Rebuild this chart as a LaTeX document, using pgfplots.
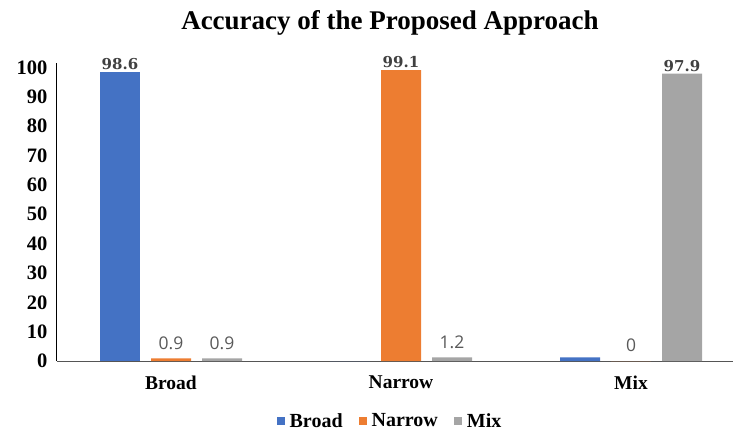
\documentclass[border=0pt]{standalone}
\usepackage{fontspec}
\setmainfont{Liberation Serif}
\newfontfamily\labelfont{Open Sans}
\newfontfamily\biglabelfont{DejaVu Serif}
\usepackage{pgfplots}
\pgfplotsset{compat=1.18}

\definecolor{cBroad}{HTML}{4472C4}
\definecolor{cNarrow}{HTML}{ED7D31}
\definecolor{cMix}{HTML}{A5A5A5}
\definecolor{lblbig}{HTML}{404040}
\definecolor{lblsmall}{HTML}{595959}
\definecolor{xaxisline}{HTML}{555555}

% value labels: large values bold and dark, small values regular and lifted
\newcommand\barlabel{%
  \pgfmathfloattofixed{\pgfplotspointmeta}%
  \ifdim\pgfmathresult pt>50pt
    \textcolor{lblbig}{\biglabelfont\bfseries\fontsize{15}{15}\selectfont\pgfmathprintnumber{\pgfplotspointmeta}}%
  \else
    \raisebox{7pt}{\textcolor{lblsmall}{\labelfont\fontsize{17.5}{17.5}\selectfont\pgfmathprintnumber{\pgfplotspointmeta}}}%
  \fi}

\begin{document}
\begin{tikzpicture}
\begin{axis}[
  scale only axis,
  width=676pt, height=298pt,
  xmin=-0.4957, xmax=2.4435,
  ymin=0, ymax=101.5,
  ybar, bar width=40pt,
  axis x line*=bottom, axis y line*=left,
  x axis line style={xaxisline, line width=1pt, -},
  y axis line style={black, line width=1pt, -},
  xtick={0,1,2}, xticklabels={Broad,Narrow,Mix},
  ytick={0,10,...,100},
  major tick length=0pt,
  /pgf/number format/assume math mode=true,
  xticklabel style={font=\bfseries\fontsize{19.5}{19.5}\selectfont, anchor=north, yshift=-11pt},
  yticklabel style={font=\bfseries\fontsize{20.5}{20.5}\selectfont, anchor=east, xshift=-6pt},
  nodes near coords={\barlabel},
  nodes near coords style={anchor=south, inner sep=2pt,
    /pgf/number format/.cd, fixed, precision=1},
  legend style={at={(333pt,-60pt)}, anchor=center, draw=none,
    legend columns=-1, font=\bfseries\fontsize{20}{20}\selectfont,
    /tikz/every odd column/.append style={column sep=3pt},
    /tikz/every even column/.append style={column sep=14pt}},
  legend image code/.code={\fill[#1] (0pt,-4pt) rectangle (8pt,4pt);},
  clip=false,
]
\addplot[fill=cBroad, draw=none, bar shift=-51pt] coordinates {(0,98.6)};
\addlegendentry{Broad}
\addplot[fill=cBroad, draw=none, bar shift=-51pt, nodes near coords={}, forget plot] coordinates {(1,0) (2,1.2)};
\addplot[fill=cNarrow, draw=none, bar shift=0pt] coordinates {(0,0.9) (1,99.1) (2,0)};
\addlegendentry{Narrow}
\addplot[fill=cMix, draw=none, bar shift=51pt] coordinates {(0,0.9) (1,1.2) (2,97.9)};
\addlegendentry{Mix}
\end{axis}
\node[font=\bfseries\fontsize{27}{27}\selectfont] at (333pt,338pt) {Accuracy of the Proposed Approach};
\pgfresetboundingbox
\path (-57pt,-73pt) rectangle (676pt,361pt);
\end{tikzpicture}
\end{document}
